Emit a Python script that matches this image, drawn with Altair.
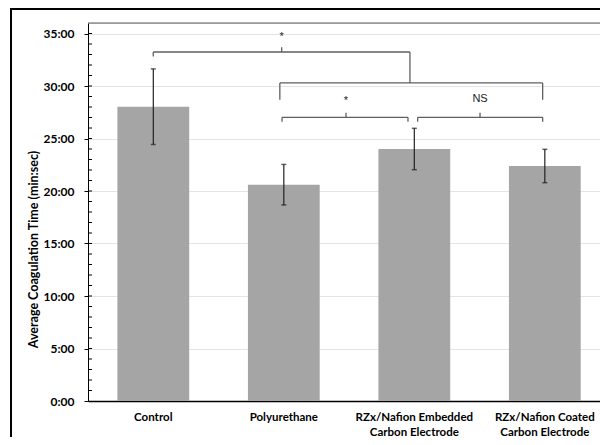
import altair as alt
import pandas as pd

# ---- data (minutes) ----
categories = ["Control", "Polyurethane",
              "RZx/Nafion Embedded|Carbon Electrode",
              "RZx/Nafion Coated|Carbon Electrode"]
means_min = [28.03, 20.6, 24.0, 22.38]
sd_min = [3.6, 1.93, 1.97, 1.59]

y_major = [0, 5, 10, 15, 20, 25, 30, 35]
y_minor = list(range(1, 36))

# significance brackets (x in category units, y in minutes)
seg_x = [0.5, 0.5, 2.467, 1.484, 1.47, 1.47, 3.484, 1.487, 1.487, 2.452, 1.977, 2.526, 2.526, 3.484, 3.004]
seg_x2 = [2.467, 0.5, 2.467, 1.484, 3.484, 1.47, 3.484, 2.452, 1.487, 2.452, 1.977, 3.484, 2.526, 3.484, 3.004]
seg_y = [33.24, 33.24, 33.24, 33.24, 30.29, 30.29, 30.29, 27.02, 27.02, 27.02, 27.02, 27.02, 27.02, 27.02, 27.02]
seg_y2 = [33.24, 32.8, 30.29, 33.69, 30.29, 28.7, 28.7, 27.02, 26.6, 26.6, 27.45, 27.02, 26.6, 26.6, 27.45]

lab_x = [1.484, 1.977, 3.004]
lab_y = [34.7, 28.6, 28.76]
lab_text = ["*", "*", "NS"]

FONT = "Lato"

df = pd.DataFrame({"cat": categories, "mean": means_min, "sd": sd_min})
df["lo"] = df["mean"] - df["sd"]
df["hi"] = df["mean"] + df["sd"]
minor_df = pd.DataFrame({"m": y_minor})
seg_df = pd.DataFrame({"x": seg_x, "x2": seg_x2, "y": seg_y, "y2": seg_y2})
lab_df = pd.DataFrame({"x": lab_x, "y": lab_y, "t": lab_text})

W, H = 512, 378
STEP = 130.5

y_scale = alt.Scale(domain=[0, 36], nice=False, zero=True)
y_axis = alt.Axis(
    title="Average Coagulation Time (min:sec)",
    values=y_major,
    labelExpr="datum.value + ':00'",
    labelFont=FONT, labelFontWeight="bold", labelFontSize=12, labelColor="#000000",
    labelPadding=10, tickSize=4, tickColor="#000000", domainColor="#000000",
    grid=True, gridColor="#e4e4e4", gridWidth=1,
    titleFont=FONT, titleFontWeight="bold", titleFontSize=12.5, titleColor="#000000",
    titleX=-55, titleY=226, titleAngle=270, titleAlign="center", titleBaseline="middle",
)

x_band = alt.Scale(domain=categories, paddingInner=0.45, paddingOuter=0.1866, align=0.604)
x_axis = alt.Axis(
    title=None, labelAngle=0, ticks=False,
    labelExpr="split(datum.value, '|')",
    labelFont=FONT, labelFontWeight="bold", labelFontSize=11.5, labelColor="#000000",
    labelPadding=10, labelLineHeight=15.5,
    domainColor="#000000", domainWidth=1.5, grid=False,
)

base = alt.Chart(df)
bars = base.mark_bar(color="#a5a5a5").encode(
    x=alt.X("cat:N", scale=x_band, axis=x_axis, sort=categories),
    y=alt.Y("mean:Q", scale=y_scale, axis=y_axis),
)
err = base.mark_rule(color="#222222", strokeWidth=1.2).encode(
    x=alt.X("cat:N", scale=x_band, axis=x_axis, sort=categories),
    y=alt.Y("lo:Q", scale=y_scale, axis=y_axis),
    y2="hi:Q",
)
cap_lo = base.mark_tick(color="#222222", size=5, thickness=1.5).encode(
    x=alt.X("cat:N", scale=x_band, axis=x_axis, sort=categories),
    y=alt.Y("lo:Q", scale=y_scale, axis=y_axis),
)
cap_hi = base.mark_tick(color="#222222", size=5, thickness=1.5).encode(
    x=alt.X("cat:N", scale=x_band, axis=x_axis, sort=categories),
    y=alt.Y("hi:Q", scale=y_scale, axis=y_axis),
)
minor = alt.Chart(minor_df).mark_rule(color="#000000", strokeWidth=1).encode(
    x=alt.value(0), x2=alt.value(4),
    y=alt.Y("m:Q", scale=y_scale, axis=y_axis),
)
top_border = alt.Chart(pd.DataFrame({"a": [0]})).mark_rule(color="#595959", strokeWidth=1).encode(
    x=alt.value(0), x2=alt.value(560), y=alt.value(0)
)

inner = alt.layer(bars, err, cap_lo, cap_hi, minor)

x_ann = alt.Scale(domain=[0, W / STEP], nice=False, zero=False)
brackets = alt.Chart(seg_df).mark_rule(color="#5f5f5f", strokeWidth=1.3).encode(
    x=alt.X("x:Q", scale=x_ann, axis=None),
    x2="x2:Q",
    y=alt.Y("y:Q", scale=y_scale, axis=y_axis),
    y2="y2:Q",
)
labels = alt.Chart(lab_df).mark_text(font="Liberation Sans", fontSize=11, color="#222222",
                                     baseline="middle", align="center").encode(
    x=alt.X("x:Q", scale=x_ann, axis=None),
    y=alt.Y("y:Q", scale=y_scale, axis=y_axis),
    text="t:N",
)
frame = alt.Chart(pd.DataFrame({"a": [0]})).mark_rect(
    fillOpacity=0, stroke="#000000", strokeWidth=2
).encode(
    x=alt.value(-77), x2=alt.value(700), y=alt.value(-14), y2=alt.value(500)
)

chart = alt.layer(inner, brackets, labels, top_border, frame).resolve_scale(x="independent").properties(
    width=W, height=H,
    autosize=alt.AutoSizeParams(type="none"),
    padding={"left": 80, "top": 15, "right": 0, "bottom": 36},
).configure_view(strokeWidth=0).configure(background="white")

chart.save("out.html", embed_options={"renderer": "svg", "actions": False})
